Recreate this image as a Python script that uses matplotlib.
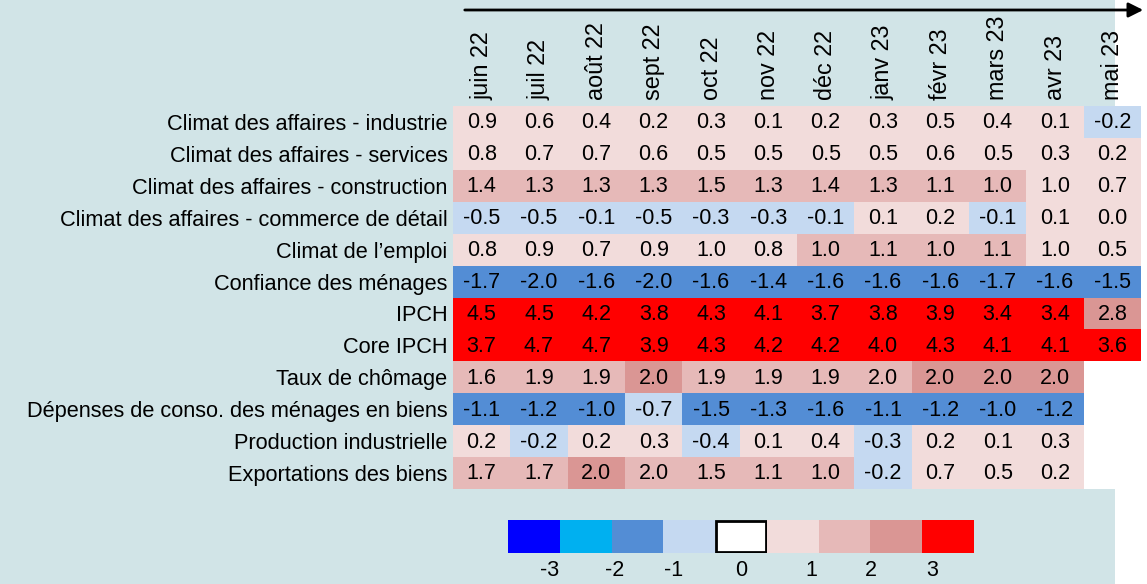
import numpy as np
import matplotlib
matplotlib.use("Agg")
import matplotlib.pyplot as plt
from matplotlib.colors import ListedColormap, BoundaryNorm
from matplotlib.patches import Rectangle, FancyArrowPatch

plt.rcParams['font.family'] = ['Liberation Sans', 'DejaVu Sans']

months = ["juin 22", "juil 22", "août 22", "sept 22", "oct 22", "nov 22",
          "déc 22", "janv 23", "févr 23", "mars 23", "avr 23", "mai 23"]

indicators = [
    "Climat des affaires - industrie",
    "Climat des affaires - services",
    "Climat des affaires - construction",
    "Climat des affaires - commerce de détail",
    "Climat de l\u2019emploi",
    "Confiance des ménages",
    "IPCH",
    "Core IPCH",
    "Taux de chômage",
    "Dépenses de conso. des ménages en biens",
    "Production industrielle",
    "Exportations des biens",
]

nan = np.nan
values = np.array([
    [0.9, 0.6, 0.4, 0.2, 0.3, 0.1, 0.2, 0.3, 0.5, 0.4, 0.1, -0.2],
    [0.8, 0.7, 0.7, 0.6, 0.5, 0.5, 0.5, 0.5, 0.6, 0.5, 0.3, 0.2],
    [1.4, 1.3, 1.3, 1.3, 1.5, 1.3, 1.4, 1.3, 1.1, 1.0, 1.0, 0.7],
    [-0.5, -0.5, -0.1, -0.5, -0.3, -0.3, -0.1, 0.1, 0.2, -0.1, 0.1, 0.0],
    [0.8, 0.9, 0.7, 0.9, 1.0, 0.8, 1.0, 1.1, 1.0, 1.1, 1.0, 0.5],
    [-1.7, -2.0, -1.6, -2.0, -1.6, -1.4, -1.6, -1.6, -1.6, -1.7, -1.6, -1.5],
    [4.5, 4.5, 4.2, 3.8, 4.3, 4.1, 3.7, 3.8, 3.9, 3.4, 3.4, 2.8],
    [3.7, 4.7, 4.7, 3.9, 4.3, 4.2, 4.2, 4.0, 4.3, 4.1, 4.1, 3.6],
    [1.6, 1.9, 1.9, 2.0, 1.9, 1.9, 1.9, 2.0, 2.0, 2.0, 2.0, nan],
    [-1.1, -1.2, -1.0, -0.7, -1.5, -1.3, -1.6, -1.1, -1.2, -1.0, -1.2, nan],
    [0.2, -0.2, 0.2, 0.3, -0.4, 0.1, 0.4, -0.3, 0.2, 0.1, 0.3, nan],
    [1.7, 1.7, 2.0, 2.0, 1.5, 1.1, 1.0, -0.2, 0.7, 0.5, 0.2, nan],
])

# colour class of each cell (as shown in the reference)
levels = np.array([
    [1, 1, 1, 1, 1, 1, 1, 1, 1, 1, 1, -1],
    [1, 1, 1, 1, 1, 1, 1, 1, 1, 1, 1, 1],
    [2, 2, 2, 2, 2, 2, 2, 2, 2, 2, 1, 1],
    [-1, -1, -1, -1, -1, -1, -1, 1, 1, -1, 1, 1],
    [1, 1, 1, 1, 1, 1, 2, 2, 2, 2, 1, 1],
    [-2, -2, -2, -2, -2, -2, -2, -2, -2, -2, -2, -2],
    [4, 4, 4, 4, 4, 4, 4, 4, 4, 4, 4, 3],
    [4, 4, 4, 4, 4, 4, 4, 4, 4, 4, 4, 4],
    [2, 2, 2, 3, 2, 2, 2, 2, 3, 3, 3, 0],
    [-2, -2, -2, -1, -2, -2, -2, -2, -2, -2, -2, 0],
    [1, -1, 1, 1, -1, 1, 1, -1, 1, 1, 1, 0],
    [2, 2, 3, 2, 2, 2, 2, -1, 1, 1, 1, 0],
])

legend_levels = [-4, -3, -2, -1, 0, 1, 2, 3, 4]
legend_labels = ["-3", "-2", "-1", "0", "1", "2", "3"]
legend_label_pos = [0.8, 2.05, 3.2, 4.5, 5.85, 7.0, 8.2]

level_colors = ["#0000FF", "#00B0F0", "#538DD5", "#C5D9F1", "#FFFFFF",
                "#F2DCDB", "#E6B9B8", "#DA9694", "#FF0000"]
bg = "#D1E4E7"

W, H = 1147, 584
fig = plt.figure(figsize=(W / 100, H / 100), dpi=100)
fig.patch.set_facecolor("white")
fig.add_artist(Rectangle((0, 0), 1115 / W, 1, transform=fig.transFigure,
                         facecolor=bg, edgecolor="none", zorder=-10))

FS = 15.5

# heatmap table
x0, x1, y0, y1 = 453, 1141, 106, 489
ax = fig.add_axes([x0 / W, 1 - y1 / H, (x1 - x0) / W, (y1 - y0) / H])
cmap = ListedColormap(level_colors)
norm = BoundaryNorm(np.arange(-4.5, 5.5, 1), cmap.N)
nr, nc = values.shape
ax.pcolormesh(np.arange(nc + 1), np.arange(nr + 1), levels, cmap=cmap, norm=norm)
ax.set_xlim(0, nc)
ax.set_ylim(nr, 0)
for i in range(nr):
    for j in range(nc):
        v = values[i, j]
        if not np.isnan(v):
            ax.text(j + 0.5, i + 0.53, f"{v:.1f}", ha="center", va="center",
                    fontsize=FS, color="black")

ax.xaxis.tick_top()
ax.set_xticks(np.arange(nc) + 0.5)
ax.set_xticklabels(months, rotation=90, fontsize=16.8)
ax.set_yticks(np.arange(nr) + 0.5)
ax.set_yticklabels(indicators, fontsize=15.7)
ax.tick_params(axis="both", length=0)
ax.tick_params(axis="x", pad=4)
ax.tick_params(axis="y", pad=4)
for s in ax.spines.values():
    s.set_visible(False)

# time arrow
fig.add_artist(FancyArrowPatch((462 / W, 1 - 10 / H), (1146 / W, 1 - 10 / H),
                               transform=fig.transFigure, arrowstyle="-|>",
                               mutation_scale=22, linewidth=2, color="black"))

# colour legend
lx0, lx1, ly0, ly1 = 508, 974, 520, 553
lax = fig.add_axes([lx0 / W, 1 - ly1 / H, (lx1 - lx0) / W, (ly1 - ly0) / H])
for k, lev in enumerate(legend_levels):
    col = level_colors[lev + 4]
    if lev == 0:
        lax.add_patch(Rectangle((k + 0.02, 0.03), 0.96, 0.94, facecolor=col,
                                edgecolor="black", linewidth=2))
    else:
        lax.add_patch(Rectangle((k, 0), 1, 1, facecolor=col, edgecolor="none"))
for p, lab in zip(legend_label_pos, legend_labels):
    lax.text(p, -0.22, lab, ha="center", va="top", fontsize=FS)
lax.set_xlim(0, len(legend_levels))
lax.set_ylim(0, 1)
lax.axis("off")

fig.savefig("out.png", dpi=100, facecolor=fig.get_facecolor())
